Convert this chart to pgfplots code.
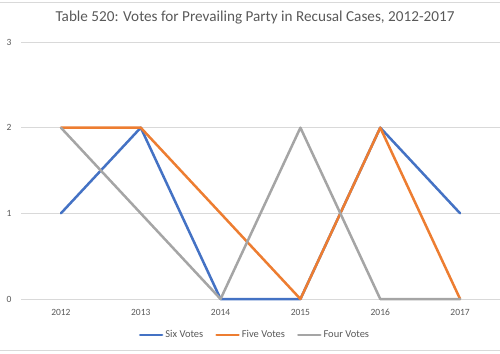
\documentclass[border=0pt]{standalone}
\usepackage{fontspec}
\setmainfont{Carlito}
\usepackage{pgfplots}
\pgfplotsset{compat=1.18}
\definecolor{sixc}{HTML}{4472C4}
\definecolor{fivec}{HTML}{ED7D31}
\definecolor{fourc}{HTML}{A5A5A5}
\definecolor{gridc}{HTML}{D9D9D9}
\definecolor{txtc}{HTML}{595959}
\begin{document}
\begin{tikzpicture}[x=1bp,y=1bp]
\path[use as bounding box] (0,0) rectangle (500,353);
\draw[gridc, line width=0.75bp] (0,350.5) -- (500,350.5);
\draw[gridc, line width=0.75bp] (0,2.5) -- (500,2.5);
\node[text=txtc, font=\fontsize{15.2bp}{17bp}\selectfont] at (255,335) {Table 520: Votes for Prevailing Party in Recusal Cases, 2012-2017};
\begin{axis}[
  at={(21bp,54bp)}, anchor=south west,
  scale only axis, width=479bp, height=257bp,
  xmin=2011.5, xmax=2017.5, ymin=0, ymax=3,
  xtick={2012,2013,2014,2015,2016,2017},
  ytick={0,1,2,3},
  xticklabels={2012,2013,2014,2015,2016,2017},
  /pgf/number format/assume math mode=true,
  axis line style={draw=none},
  major tick length=0pt,
  ymajorgrids, grid style={gridc, line width=0.75bp},
  ticklabel style={text=txtc, font=\fontsize{9.5bp}{11bp}\selectfont},
  xticklabel style={yshift=-7bp},
  yticklabel style={xshift=-6bp},
  clip=false,
  legend columns=3,
  legend style={at={(0.4885,0)}, anchor=center, yshift=-36bp, draw=none, fill=none,
    font=\fontsize{10.5bp}{12bp}\selectfont, text=txtc,
    /tikz/every even column/.append style={column sep=10bp}},
  legend image code/.code={\draw[#1] (0bp,0bp) -- (22bp,0bp);},
  every axis plot/.append style={line width=2.5bp, line join=round, line cap=round},
]
\draw[gridc, line width=0.75bp] (axis cs:2011.5,0) -- (axis cs:2017.5,0);
\addplot[sixc, mark=none] coordinates {(2012,1) (2013,2) (2014,0) (2015,0) (2016,2) (2017,1)};
\addlegendentry{Six Votes}
\addplot[fivec, mark=none] coordinates {(2012,2) (2013,2) (2014,1) (2015,0) (2016,2) (2017,0)};
\addlegendentry{Five Votes}
\addplot[fourc, mark=none] coordinates {(2012,2) (2013,1) (2014,0) (2015,2) (2016,0) (2017,0)};
\addlegendentry{Four Votes}
\end{axis}
\end{tikzpicture}
\end{document}
